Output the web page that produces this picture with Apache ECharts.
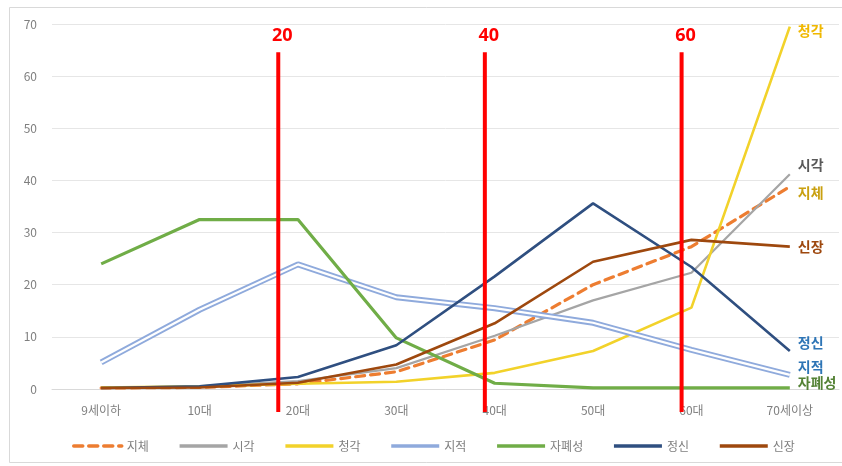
<!DOCTYPE html>
<html>
<head>
<meta charset="utf-8">
<script src="https://cdn.jsdelivr.net/npm/echarts@6/dist/echarts.min.js"></script>
<style>
  html, body { margin: 0; padding: 0; background: #fff; }
  #chart { width: 842px; height: 466px; }
</style>
</head>
<body>
<div id="chart"></div>
<script>
// Age groups on the x axis
const categories = ['9세이하', '10대', '20대', '30대', '40대', '50대', '60대', '70세이상'];

// Share (%) by disability type for each age group
const jiche      = [0.2, 0.3, 1.0, 3.3, 9.4, 20.0, 27.3, 38.8];  // 지체
const sigak      = [0.2, 0.5, 1.5, 4.0, 10.2, 17.0, 22.3, 41.2]; // 시각
const cheonggak  = [0.3, 0.5, 1.0, 1.4, 3.1, 7.3, 15.6, 69.5];   // 청각
const jijeok     = [5.1, 15.2, 23.9, 17.6, 15.5, 12.7, 7.5, 2.7]; // 지적
const japyeseong = [24.0, 32.5, 32.5, 9.8, 1.1, 0.2, 0.2, 0.2];  // 자폐성
const jeongsin   = [0.2, 0.5, 2.3, 8.4, 21.6, 35.6, 23.4, 7.3];  // 정신
const sinjang    = [0.2, 0.3, 1.2, 4.7, 12.6, 24.4, 28.6, 27.3]; // 신장

// Y axis ticks
const yMin = 0, yMax = 70, yStep = 10;

// Age markers: position on the category index scale, top and bottom values, label
const markerX      = [1.8, 3.9, 5.9];
const markerLabels = ['20', '40', '60'];
const markerTop    = 64.6;
const markerBottom = -4.4;

const FONT = '"Noto Sans CJK KR", "Noto Sans", sans-serif';

function lineSeries(name, data, color, width, labelColor, labelOffset, extra) {
  return Object.assign({
    name: name,
    type: 'line',
    data: data,
    symbol: 'none',
    smooth: false,
    lineStyle: { color: color, width: width },
    itemStyle: { color: color },
    endLabel: {
      show: true,
      formatter: name,
      color: labelColor,
      fontFamily: FONT,
      fontSize: 14,
      fontWeight: 'bold',
      distance: 8,
      offset: labelOffset
    },
    emphasis: { disabled: true }
  }, extra || {});
}

const series = [
  lineSeries('지체', jiche, '#ED7D31', 3.2, '#C9A010', [0, 6], {
    lineStyle: { color: '#ED7D31', width: 3.2, type: [9, 6], cap: 'round' }
  }),
  lineSeries('시각', sigak, '#A5A5A5', 2.2, '#595959', [0, -9]),
  lineSeries('청각', cheonggak, '#F2D22A', 2.6, '#F0B800', [0, 4]),
  lineSeries('지적', jijeok, '#8FAADC', 6, '#2E75B6', [0, -8]),
  {
    name: '지적 안쪽선',
    type: 'line',
    data: jijeok,
    symbol: 'none',
    lineStyle: { color: '#ffffff', width: 2.2 },
    emphasis: { disabled: true }
  },
  lineSeries('자폐성', japyeseong, '#70AD47', 3.2, '#548235', [0, -5]),
  lineSeries('정신', jeongsin, '#2F4F80', 2.6, '#2E75B6', [0, -8]),
  lineSeries('신장', sinjang, '#9E480E', 2.6, '#9E480E', [0, 0])
];

// Red vertical age markers with their labels on top
markerX.forEach(function (x, i) {
  series.push({
    name: 'marker' + markerLabels[i],
    type: 'line',
    xAxisIndex: 1,
    yAxisIndex: 0,
    clip: false,
    z: 10,
    symbol: 'circle',
    symbolSize: 0,
    showSymbol: true,
    lineStyle: { color: '#FF0000', width: 4 },
    itemStyle: { color: '#FF0000' },
    data: [
      { value: [x, markerBottom] },
      {
        value: [x, markerTop],
        label: {
          show: true,
          position: 'top',
          distance: 7,
          offset: [4, 0],
          formatter: markerLabels[i],
          color: '#FF0000',
          fontFamily: '"Open Sans", "Noto Sans", sans-serif',
          fontWeight: 'bold',
          fontSize: 18
        }
      }
    ],
    emphasis: { disabled: true },
    silent: true
  });
});

const chart = echarts.init(document.getElementById('chart'), null, { renderer: 'canvas' });

chart.setOption({
  backgroundColor: '#ffffff',
  animation: false,
  graphic: [{
    type: 'rect',
    shape: { x: 9.5, y: 7.5, width: 840, height: 455 },
    style: { fill: 'none', stroke: '#D9D9D9', lineWidth: 1 },
    silent: true,
    z: -1
  }],
  grid: { left: 52, right: 3, top: 24, bottom: 77 },
  legend: {
    data: ['지체', '시각', '청각', '지적', '자폐성', '정신', '신장'],
    left: 67,
    top: 435,
    itemWidth: 48,
    itemHeight: 12,
    itemGap: 29,
    itemStyle: { color: 'rgba(0,0,0,0)', borderWidth: 0 },
    lineStyle: { width: 3.5 },
    textStyle: { color: '#7F7F7F', fontSize: 12, fontFamily: FONT },
    selectedMode: false
  },
  xAxis: [
    {
      type: 'category',
      data: categories,
      boundaryGap: true,
      axisLine: { show: true, lineStyle: { color: '#D9D9D9', width: 1 } },
      axisTick: { show: false },
      axisLabel: { color: '#7F7F7F', fontSize: 12, fontFamily: FONT, margin: 15 },
      splitLine: { show: false }
    },
    {
      type: 'value',
      min: -0.5,
      max: 7.5,
      show: false
    }
  ],
  yAxis: {
    type: 'value',
    min: yMin,
    max: yMax,
    interval: yStep,
    axisLine: { show: false },
    axisTick: { show: false },
    axisLabel: { color: '#7F7F7F', fontSize: 12, fontFamily: FONT, margin: 15 },
    splitLine: { lineStyle: { color: '#E6E6E6', width: 1 } }
  },
  series: series
});
</script>
</body>
</html>
